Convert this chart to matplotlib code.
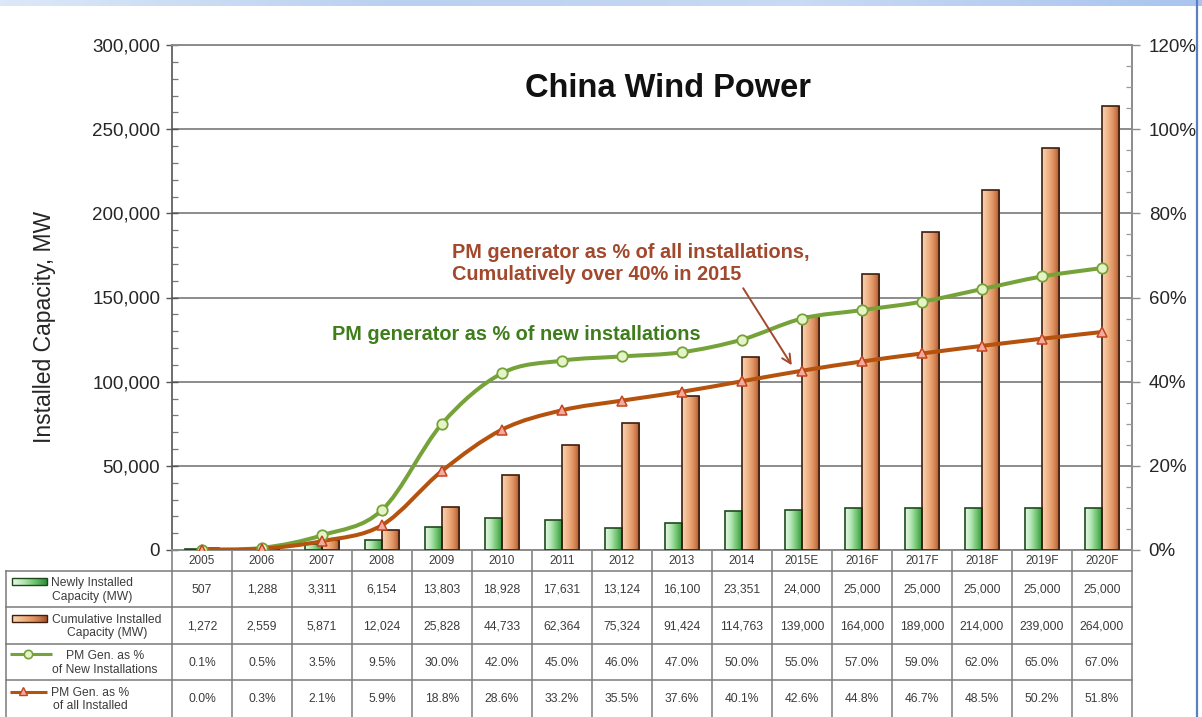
import numpy as np
import matplotlib
matplotlib.use("Agg")
import matplotlib.pyplot as plt
from matplotlib.path import Path
from matplotlib.patches import PathPatch, Rectangle
from matplotlib.colors import LinearSegmentedColormap
from matplotlib.transforms import blended_transform_factory
from matplotlib.ticker import MultipleLocator, FuncFormatter

plt.rcParams['font.family'] = ['Liberation Sans', 'DejaVu Sans']

# ---- data -------------------------------------------------------------
years = ['2005', '2006', '2007', '2008', '2009', '2010', '2011', '2012',
         '2013', '2014', '2015E', '2016F', '2017F', '2018F', '2019F', '2020F']
new_capacity = [507, 1288, 3311, 6154, 13803, 18928, 17631, 13124,
                16100, 23351, 24000, 25000, 25000, 25000, 25000, 25000]
cum_capacity = [1272, 2559, 5871, 12024, 25828, 44733, 62364, 75324,
                91424, 114763, 139000, 164000, 189000, 214000, 239000, 264000]
pm_pct_new = [0.1, 0.5, 3.5, 9.5, 30.0, 42.0, 45.0, 46.0,
              47.0, 50.0, 55.0, 57.0, 59.0, 62.0, 65.0, 67.0]
pm_pct_all = [0.0, 0.3, 2.1, 5.9, 18.8, 28.6, 33.2, 35.5,
              37.6, 40.1, 42.6, 44.8, 46.7, 48.5, 50.2, 51.8]

row_labels = ['Newly Installed\nCapacity (MW)',
              'Cumulative Installed\nCapacity (MW)',
              'PM Gen. as %\nof New Installations',
              'PM Gen. as %\nof all Installed']

# ---- style ------------------------------------------------------------
GREEN_LINE = '#76a23a'
GREEN_FACE = '#e4f4c6'
BROWN_LINE = '#b5520e'
BROWN_FACE = '#f4aaa0'
GREEN_TEXT = '#3f7d1c'
BROWN_TEXT = '#a2482c'
GRID = '#8c8c8c'
TXT = '#262626'
TABLE_TXT = '#3c3c3c'

green_cmap = LinearSegmentedColormap.from_list(
    'g', ['#e8f8e8', '#b4e6b4', '#6cc26c', '#2f8a3c'])
orange_cmap = LinearSegmentedColormap.from_list(
    'o', ['#f8d6b6', '#f0b488', '#dc8c5a', '#a4522c'])
grad = np.linspace(0, 1, 256).reshape(1, -1)

W, H = 1202, 717
fig = plt.figure(figsize=(W / 100, H / 100), dpi=100)
fig.patch.set_facecolor('white')

ax_l, ax_r, ax_t, ax_b = 172, 1132, 45, 550
ax = fig.add_axes([ax_l / W, 1 - ax_b / H, (ax_r - ax_l) / W, (ax_b - ax_t) / H])
ax2 = ax.twinx()

x = np.arange(len(years))
bw = 0.29

# ---- bars with horizontal gradient -------------------------------------
def gradient_bars(container, cmap):
    for p in container.patches:
        x0, y0 = p.get_x(), p.get_y()
        w, h = p.get_width(), p.get_height()
        im = ax.imshow(grad, cmap=cmap, extent=[x0, x0 + w, y0, y0 + h],
                       aspect='auto', interpolation='bicubic', zorder=2)
        im.set_clip_path(p)

bars_new = ax.bar(x - bw / 2, new_capacity, width=bw, facecolor='none',
                  edgecolor='#1d4a1d', linewidth=1.2, zorder=3)
bars_cum = ax.bar(x + bw / 2, cum_capacity, width=bw, facecolor='none',
                  edgecolor='#3e1d0c', linewidth=1.2, zorder=3)
gradient_bars(bars_new, green_cmap)
gradient_bars(bars_cum, orange_cmap)

ax.set_xlim(-0.5, len(years) - 0.5)
ax.set_ylim(0, 300000)
ax.yaxis.set_major_locator(MultipleLocator(50000))
ax.yaxis.set_minor_locator(MultipleLocator(10000))
ax.yaxis.set_major_formatter(FuncFormatter(lambda v, _: f'{int(v):,}'))
ax.set_xticks([])
ax.grid(axis='y', which='major', color=GRID, linewidth=1.4, zorder=0)
ax.set_axisbelow(True)
ax.tick_params(axis='y', which='major', direction='inout', length=9, width=1.0,
               color='#555555', labelsize=13.5, labelcolor=TXT, pad=4)
ax.tick_params(axis='y', which='minor', direction='in', length=4, width=0.9,
               color='#777777')
for s in ['top', 'right', 'bottom']:
    ax.spines[s].set_color(GRID)
    ax.spines[s].set_linewidth(1.4)
ax.spines['left'].set_color('#555555')
ax.spines['left'].set_linewidth(1.2)

# ---- percentage lines (smoothed curves) --------------------------------
def smooth_path(xs, ys):
    pts = np.column_stack([xs, ys]).astype(float)
    n = len(pts)
    verts = [pts[0]]
    codes = [Path.MOVETO]
    for i in range(n - 1):
        p0 = pts[max(i - 1, 0)]
        p1 = pts[i]
        p2 = pts[i + 1]
        p3 = pts[min(i + 2, n - 1)]
        verts += [p1 + (p2 - p0) / 6, p2 - (p3 - p1) / 6, p2]
        codes += [Path.CURVE4] * 3
    return Path(verts, codes)

ax2.add_patch(PathPatch(smooth_path(x, pm_pct_new), fill=False,
                        edgecolor=GREEN_LINE, linewidth=2.9, zorder=4,
                        capstyle='round', joinstyle='round'))
ax2.add_patch(PathPatch(smooth_path(x, pm_pct_all), fill=False,
                        edgecolor=BROWN_LINE, linewidth=2.9, zorder=4,
                        capstyle='round', joinstyle='round'))
ax2.plot(x, pm_pct_new, linestyle='none', marker='o', markersize=7.5,
         markerfacecolor=GREEN_FACE, markeredgecolor=GREEN_LINE,
         markeredgewidth=1.3, zorder=5)
ax2.plot(x, pm_pct_all, linestyle='none', marker='^', markersize=6.5,
         markerfacecolor=BROWN_FACE, markeredgecolor='#c2451c',
         markeredgewidth=1.1, zorder=5)

ax2.set_ylim(0, 120)
ax2.yaxis.set_major_locator(MultipleLocator(20))
ax2.yaxis.set_minor_locator(MultipleLocator(5))
ax2.yaxis.set_major_formatter(FuncFormatter(lambda v, _: f'{int(v)}%'))
ax2.tick_params(axis='y', which='major', direction='out', length=6, width=1.0,
                color=GRID, labelsize=13.5, labelcolor=TXT, pad=6)
ax2.tick_params(axis='y', which='minor', direction='in', length=4, width=0.9,
                color='#999999')
for s in ax2.spines.values():
    s.set_visible(False)
ax.set_xlim(-0.5, len(years) - 0.5)

# ---- titles and annotations --------------------------------------------
ax.text(0.517, 0.913, 'China Wind Power', transform=ax.transAxes,
        ha='center', va='center', fontsize=23.5, fontweight='bold',
        color='#111111', zorder=6)
ax2.text(2.17, 51.1, 'PM generator as % of new installations',
         ha='left', va='center', fontsize=14.3, fontweight='bold',
         color=GREEN_TEXT, zorder=6)
ax2.text(4.17, 68.0, 'PM generator as % of all installations,\n'
         'Cumulatively over 40% in 2015', ha='left', va='center',
         fontsize=14.3, fontweight='bold', color=BROWN_TEXT,
         linespacing=1.2, zorder=6)
ax2.annotate('', xy=(9.83, 43.9), xytext=(9.02, 62.2),
             arrowprops=dict(arrowstyle='->', color=BROWN_TEXT, lw=1.4,
                             mutation_scale=16, shrinkA=0, shrinkB=0),
             zorder=6)

fig.text(45 / W, 1 - 327 / H, 'Installed Capacity, MW', rotation=90,
         ha='center', va='center', fontsize=16.5, color=TXT)

# ---- data table beneath the plot ---------------------------------------
ov = fig.add_axes([0, 0, 1, 1], zorder=-1)
ov.set_xlim(0, W)
ov.set_ylim(H, 0)
ov.axis('off')
tb = blended_transform_factory(ax.transData, ov.transData)

row_edges = [550, 571, 607, 644, 680, 717]
ncol = len(years)
TL = '#7a7a7a'

# vertical column borders
for i in range(ncol + 1):
    ov.plot([i - 0.5, i - 0.5], [row_edges[0], H], color=TL, lw=1.1,
            transform=tb, clip_on=False)
# horizontal row borders
for yv in row_edges[1:5]:
    ov.plot([6, ax_r], [yv, yv], color=TL, lw=1.1, clip_on=False)
ov.plot([6, 6], [row_edges[1], H], color=TL, lw=1.1, clip_on=False)

# column headers
for i, yr in enumerate(years):
    ov.text(i, (row_edges[0] + row_edges[1]) / 2 + 1, yr, transform=tb,
            ha='center', va='center', fontsize=8.5, color=TABLE_TXT)

rows = [[f'{v:,}' for v in new_capacity],
        [f'{v:,}' for v in cum_capacity],
        [f'{v:.1f}%' for v in pm_pct_new],
        [f'{v:.1f}%' for v in pm_pct_all]]
for r, vals in enumerate(rows):
    yc = (row_edges[r + 1] + row_edges[r + 2]) / 2 + 1
    for i, s in enumerate(vals):
        ov.text(i, yc, s, transform=tb, ha='center', va='center',
                fontsize=8.7, color=TABLE_TXT)

# row labels with their legend keys
label_cx = [92, 107, 105, 90]
for r, lab in enumerate(row_labels):
    yc = (row_edges[r + 1] + row_edges[r + 2]) / 2 + 1
    ov.text(label_cx[r], yc, lab, ha='center', va='center', fontsize=8.7,
            color=TABLE_TXT, linespacing=1.15)

for (y0, y1), cmap, ec in [((578, 585), green_cmap, '#1d4a1d'),
                           ((615, 622), orange_cmap, '#3e1d0c')]:
    ov.imshow(np.linspace(0, 1, 256).reshape(-1, 1).T, cmap=cmap,
              extent=[12, 47, y1, y0], aspect='auto', zorder=2)
    ov.add_patch(Rectangle((12, y0), 35, y1 - y0, facecolor='none',
                           edgecolor=ec, lw=1.0, zorder=3))
ov.set_xlim(0, W)
ov.set_ylim(H, 0)
ov.plot([10, 52], [654, 654], color=GREEN_LINE, lw=2.2, solid_capstyle='butt')
ov.plot([28], [654], marker='o', markersize=6, markerfacecolor=GREEN_FACE,
        markeredgecolor=GREEN_LINE, markeredgewidth=1.2)
ov.plot([10, 47], [692, 692], color=BROWN_LINE, lw=2.2, solid_capstyle='butt')
ov.plot([23], [691], marker='^', markersize=5.5, markerfacecolor=BROWN_FACE,
        markeredgecolor='#c2451c', markeredgewidth=1.0)

# page frame: light blue band on top and blue rule on the right
ov.imshow(np.linspace(0, 1, 256).reshape(1, -1),
          cmap=LinearSegmentedColormap.from_list('b', ['#dbe8f8', '#b9d0f0', '#c8daf4', '#a9c4ee']),
          extent=[0, W, 6, 0], aspect='auto', zorder=1)
ov.plot([1197, 1197], [0, H], color='#5b7fc6', lw=1.6, clip_on=False)
ov.set_xlim(0, W)
ov.set_ylim(H, 0)

fig.savefig('out.png', dpi=100, facecolor='white')
